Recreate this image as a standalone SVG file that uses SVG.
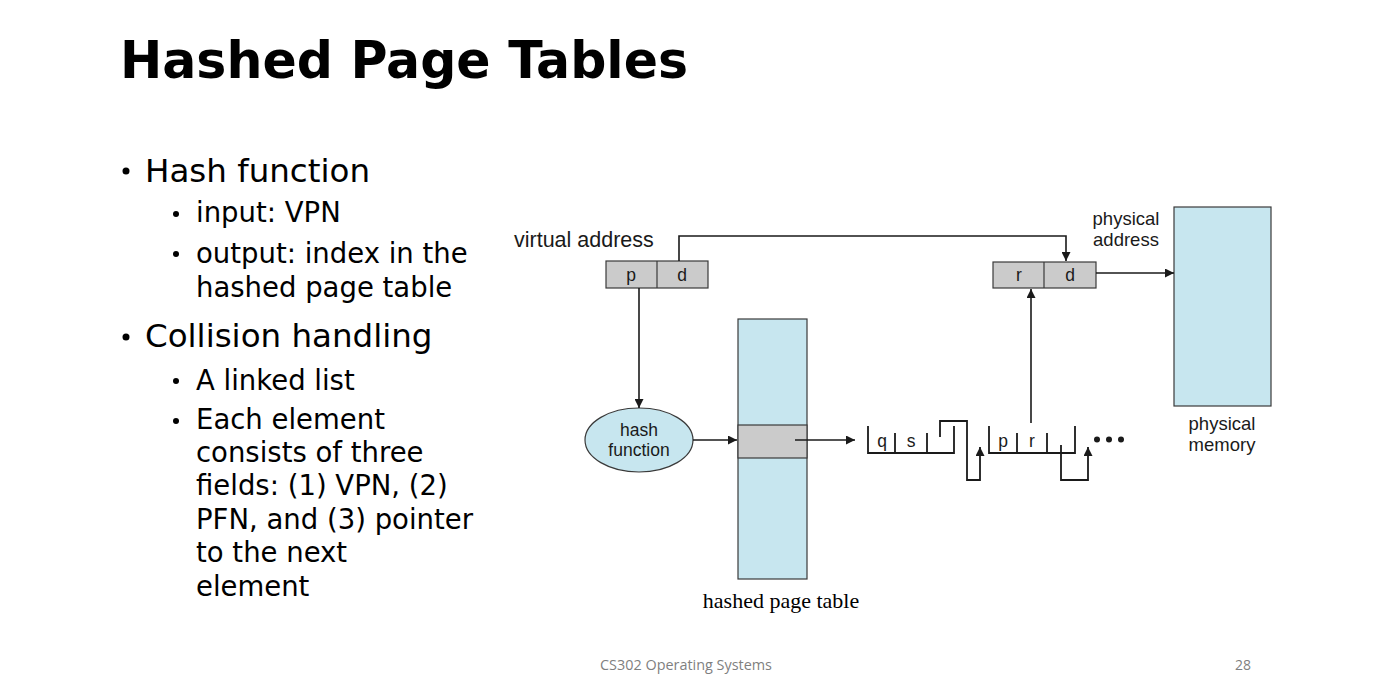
<svg xmlns="http://www.w3.org/2000/svg" width="1377" height="696" viewBox="0 0 1377 696">
  <defs>
    <marker id="arrow" viewBox="0 0 10 10" refX="10" refY="5" markerWidth="9" markerHeight="9" markerUnits="userSpaceOnUse" orient="auto">
      <path d="M0,0 L10,5 L0,10 z" fill="#1a1a1a"/>
    </marker>
    <style>
      .title { font-family: "DejaVu Sans", sans-serif; font-weight: bold; font-size: 52px; fill: #000; }
      .b1 { font-family: "DejaVu Sans", sans-serif; font-size: 32.5px; fill: #000; }
      .b2 { font-family: "DejaVu Sans", sans-serif; font-size: 27.5px; fill: #000; }
      .lbl { font-family: "Liberation Sans", Arial, sans-serif; font-size: 18.5px; fill: #1a1a1a; }
      .cell { font-family: "Liberation Sans", Arial, sans-serif; font-size: 17.5px; fill: #1a1a1a; text-anchor: middle; }
      .serif { font-family: "Liberation Serif", serif; font-size: 22px; fill: #000; text-anchor: middle; }
      .foot { font-family: "Open Sans", sans-serif; font-size: 14px; fill: #7f7f7f; }
      .box { stroke: #3a3a3a; stroke-width: 1.2; }
      .gray { fill: #cbcbcb; }
      .blue { fill: #c7e6ef; }
      .wire { fill: none; stroke: #1a1a1a; stroke-width: 1.6; }
      .list { fill: none; stroke: #1a1a1a; stroke-width: 1.8; }
    </style>
  </defs>

  <rect width="1377" height="696" fill="#fff"/>

  <!-- slide title -->
  <text class="title" x="120" y="78" textLength="568" lengthAdjust="spacingAndGlyphs">Hashed Page Tables</text>

  <!-- bullet text -->
  <g id="bullets">
    <circle cx="126" cy="171" r="3.5" fill="#000"/>
    <text class="b1" x="145" y="182">Hash function</text>
    <circle cx="176" cy="214" r="3" fill="#000"/>
    <text class="b2" x="196" y="222">input: VPN</text>
    <circle cx="176" cy="254" r="3" fill="#000"/>
    <text class="b2" x="196" y="263">output: index in the</text>
    <text class="b2" x="196" y="297">hashed page table</text>
    <circle cx="126" cy="337" r="3.5" fill="#000"/>
    <text class="b1" x="145" y="347">Collision handling</text>
    <circle cx="176" cy="381" r="3" fill="#000"/>
    <text class="b2" x="196" y="390">A linked list</text>
    <circle cx="176" cy="421" r="3" fill="#000"/>
    <text class="b2" x="196" y="429">Each element</text>
    <text class="b2" x="196" y="462">consists of three</text>
    <text class="b2" x="196" y="495">fields: (1) VPN, (2)</text>
    <text class="b2" x="196" y="529">PFN, and (3) pointer</text>
    <text class="b2" x="196" y="562">to the next</text>
    <text class="b2" x="196" y="596">element</text>
  </g>

  <!-- virtual address register -->
  <g id="virtual-address">
    <text class="lbl" x="514" y="247" style="font-size:21.5px">virtual address</text>
    <rect class="box gray" x="606" y="261" width="102" height="27"/>
    <line class="box" x1="657" y1="261" x2="657" y2="288"/>
    <text class="cell" x="631" y="281">p</text>
    <text class="cell" x="682" y="281">d</text>
  </g>

  <!-- physical address register -->
  <g id="physical-address">
    <text class="lbl" x="1126" y="225" text-anchor="middle">physical</text>
    <text class="lbl" x="1126" y="246" text-anchor="middle">address</text>
    <rect class="box gray" x="993" y="262" width="103" height="26"/>
    <line class="box" x1="1044" y1="262" x2="1044" y2="288"/>
    <text class="cell" x="1019" y="281">r</text>
    <text class="cell" x="1070" y="281">d</text>
  </g>

  <!-- hash function -->
  <g id="hash-function">
    <ellipse class="box blue" cx="639" cy="440" rx="54" ry="32"/>
    <text class="cell" x="639" y="436">hash</text>
    <text class="cell" x="639" y="456">function</text>
  </g>

  <!-- hashed page table -->
  <g id="hashed-page-table">
    <rect class="box blue" x="738" y="319" width="69" height="260"/>
    <rect class="box gray" x="738" y="425" width="69" height="33"/>
    <text class="serif" x="781" y="608">hashed page table</text>
  </g>

  <!-- physical memory -->
  <g id="physical-memory">
    <rect class="box blue" x="1174" y="207" width="97" height="199"/>
    <text class="lbl" x="1222" y="430" text-anchor="middle">physical</text>
    <text class="lbl" x="1222" y="451" text-anchor="middle">memory</text>
  </g>

  <!-- chain element (q, s) -->
  <g id="element-q">
    <path class="list" d="M868,426 V453 H954 V426 M895,433 V453 M927,433 V453"/>
    <text class="cell" x="882" y="447">q</text>
    <text class="cell" x="911" y="447">s</text>
  </g>

  <!-- chain element (p, r) -->
  <g id="element-p">
    <path class="list" d="M989,426 V453 H1075 V426 M1017,433 V453 M1047,433 V453"/>
    <text class="cell" x="1003" y="447">p</text>
    <text class="cell" x="1032" y="447">r</text>
  </g>

  <g id="more">
    <circle cx="1097" cy="439.5" r="3" fill="#1a1a1a"/>
    <circle cx="1109" cy="439.5" r="3" fill="#1a1a1a"/>
    <circle cx="1121" cy="439.5" r="3" fill="#1a1a1a"/>
  </g>

  <!-- connectors -->
  <g id="connectors">
    <path class="wire" d="M679,261 V236 H1066 V261" marker-end="url(#arrow)"/>
    <path class="wire" d="M639,288 V408" marker-end="url(#arrow)"/>
    <path class="wire" d="M693,440 H737" marker-end="url(#arrow)"/>
    <path class="wire" d="M795,440 H855" marker-end="url(#arrow)"/>
    <path class="wire" d="M1096,273 H1174" marker-end="url(#arrow)"/>
    <path class="wire" d="M1031,423 V289" marker-end="url(#arrow)"/>
    <path class="list" d="M940,437 V421 H967 V480 H980 V447" marker-end="url(#arrow)"/>
    <path class="list" d="M1061,445 V480 H1088 V447" marker-end="url(#arrow)"/>
  </g>

  <!-- footer -->
  <text class="foot" x="600" y="670" textLength="172" lengthAdjust="spacingAndGlyphs">CS302 Operating Systems</text>
  <text class="foot" x="1235" y="670">28</text>
</svg>
